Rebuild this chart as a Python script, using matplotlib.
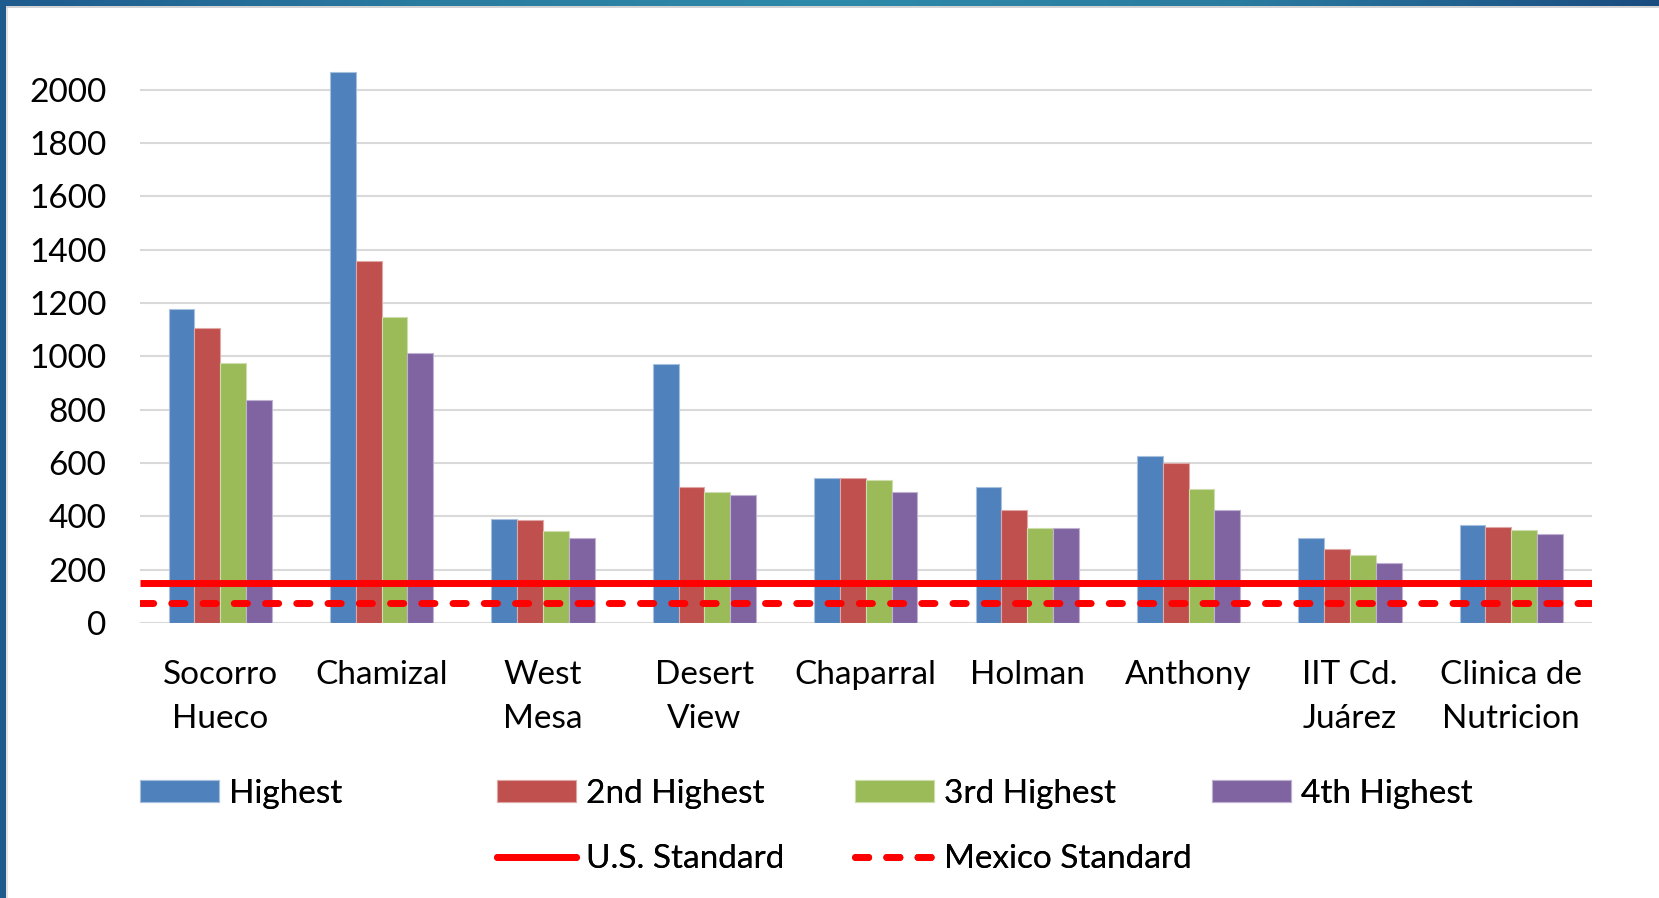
import matplotlib
matplotlib.use("Agg")
import matplotlib.pyplot as plt
import numpy as np
from matplotlib.colors import LinearSegmentedColormap
from matplotlib.lines import Line2D
from matplotlib.patches import Patch, Rectangle

plt.rcParams["font.family"] = ["Lato", "DejaVu Sans"]

sites = ["Socorro\nHueco", "Chamizal", "West\nMesa", "Desert\nView", "Chaparral",
         "Holman", "Anthony", "IIT Cd.\nJuárez", "Clinica de\nNutricion"]
highest = [1176, 2065, 390, 972, 543, 509, 627, 317, 366]
second = [1107, 1356, 385, 509, 543, 424, 600, 276, 361]
third = [976, 1149, 344, 492, 536, 356, 502, 254, 350]
fourth = [837, 1011, 317, 480, 492, 356, 424, 225, 333]
series_names = ["Highest", "2nd Highest", "3rd Highest", "4th Highest"]
us_standard = 150
mexico_standard = 75

colors = ["#4F81BD", "#C0504D", "#9BBB59", "#8064A2"]
edges = ["#A7C0DE", "#DFA8A6", "#CDDDAC", "#BFB1D0"]

W, H = 1659, 898
fs = 24
fig = plt.figure(figsize=(W / 100, H / 100), dpi=100)
ax = fig.add_axes([139.6 / W, (H - 623) / H, 1452.4 / W, 573.3 / H])

x = np.arange(len(sites))
bw = 0.16
for k, vals in enumerate([highest, second, third, fourth]):
    ax.bar(x + (k - 1.5) * bw, vals, bw, color=colors[k], edgecolor=edges[k],
           linewidth=0.8, zorder=2, label=series_names[k])

ax.axhline(us_standard, color="#FF0000", lw=5, zorder=3, solid_capstyle="butt")
ax.axhline(mexico_standard, color="#FF0000", lw=5, zorder=3,
           dashes=(1.9, 2.6), dash_capstyle="round")

ax.set_xlim(-0.5, len(sites) - 0.5)
ax.set_ylim(0, 2150)
ax.set_yticks(range(0, 2001, 200))
ax.yaxis.grid(True, color="#D9D9D9", lw=1.5, zorder=0)
ax.set_axisbelow(True)
for s in ax.spines.values():
    s.set_visible(False)
ax.tick_params(axis="both", length=0, labelsize=fs, colors="#000000")
ax.tick_params(axis="y", pad=24)
ax.tick_params(axis="x", pad=26.5)
ax.set_xticks(x)
ax.set_xticklabels(sites, linespacing=1.58)

# legend in four columns, equally spaced
bar_handles = [Patch(facecolor=colors[k], edgecolor=edges[k], lw=0.8) for k in range(4)]
us_handle = Line2D([], [], color="#FF0000", lw=5, solid_capstyle="round")
mx_handle = Line2D([], [], color="#FF0000", lw=5, dashes=(1.9, 2.6), dash_capstyle="round")
columns = [
    ([bar_handles[0]], [series_names[0]]),
    ([bar_handles[1], us_handle], [series_names[1], "U.S. Standard"]),
    ([bar_handles[2], mx_handle], [series_names[2], "Mexico Standard"]),
    ([bar_handles[3]], [series_names[3]]),
]
col_x = [140, 497, 855, 1212]
for (hs, ls), cx in zip(columns, col_x):
    leg = fig.legend(hs, ls, loc="upper left", bbox_to_anchor=(cx / W, (H - 779) / H),
                     frameon=False, fontsize=fs, handlelength=2.37, handleheight=0.63,
                     handletextpad=0.3, borderpad=0, borderaxespad=0, labelspacing=1.05)
    fig.add_artist(leg)

# slide frame: gradient bar on top, dark strip on the left
cmap = LinearSegmentedColormap.from_list(
    "frame", ["#1E5B8E", "#2A7BA0", "#2E8AAA", "#2A7BA0", "#1A4C80"])
top = fig.add_axes([0, 1 - 6 / H, 1, 6 / H])
top.imshow(np.linspace(0, 1, 256)[None, :], aspect="auto", cmap=cmap)
top.axis("off")
fig.add_artist(Rectangle((0, 1 - 8 / H), 1, 2 / H, transform=fig.transFigure,
                         color="#D4D4D4", lw=0))
fig.add_artist(Rectangle((0, 0), 6 / W, 1, transform=fig.transFigure,
                         color="#1F5C8E", lw=0))
fig.add_artist(Rectangle((6 / W, 0), 2 / W, 1 - 8 / H, transform=fig.transFigure,
                         color="#E4E4E4", lw=0))

fig.savefig("out.png", dpi=100)
